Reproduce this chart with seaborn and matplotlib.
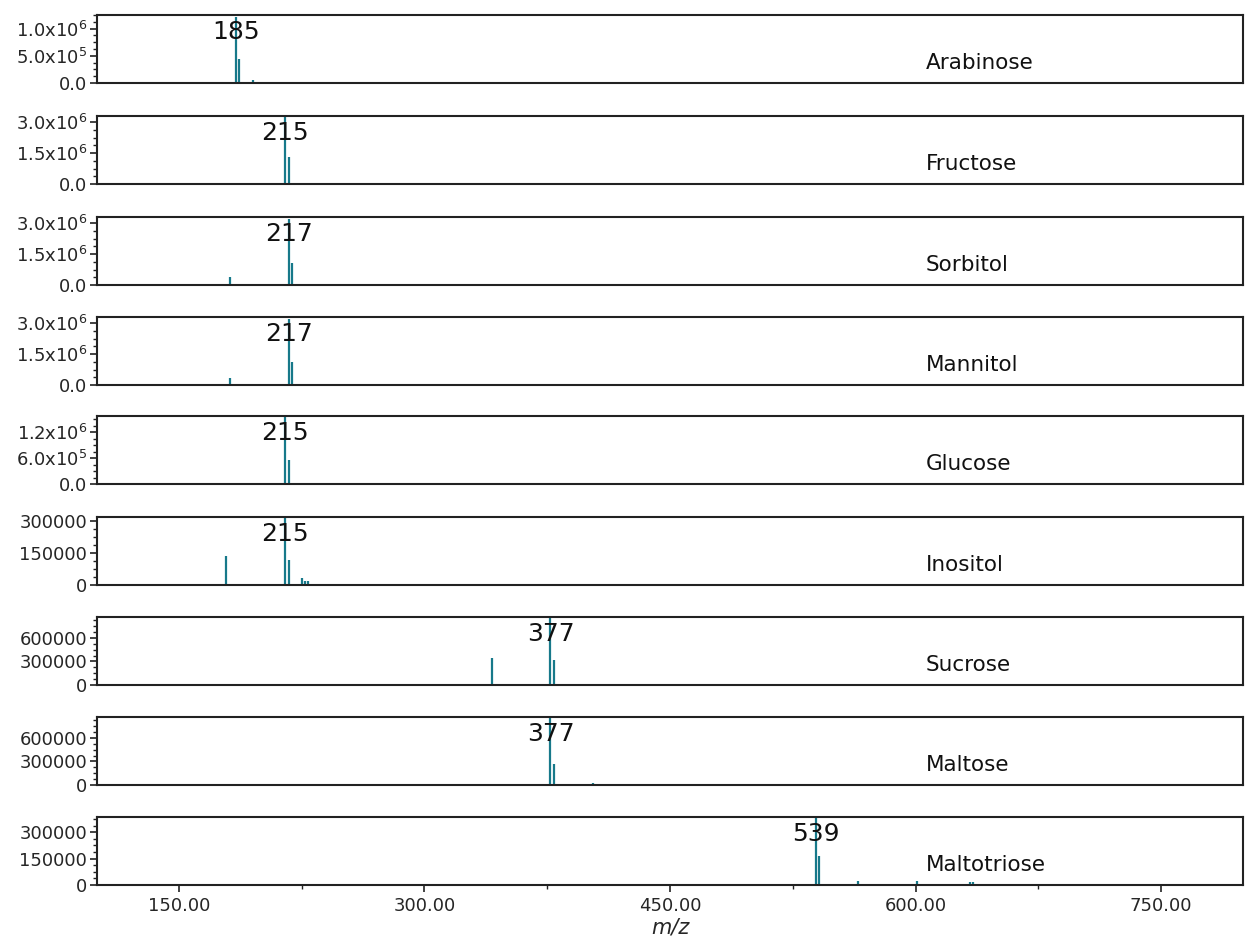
import matplotlib
matplotlib.use("Agg")
import matplotlib.pyplot as plt
from matplotlib.ticker import FixedLocator, AutoMinorLocator, MultipleLocator
import seaborn as sns
import numpy as np

sns.set_style("ticks")

compounds = ["Arabinose", "Fructose", "Sorbitol", "Mannitol", "Glucose",
             "Inositol", "Sucrose", "Maltose", "Maltotriose"]
base_peaks = [185, 215, 217, 217, 215, 215, 377, 377, 539]
mz_values = [
    [185, 187, 195],
    [215, 217],
    [181, 217, 219],
    [181, 217, 219],
    [215, 217, 375],
    [179, 215, 217, 225, 227, 229, 295],
    [117, 341, 377, 379, 403, 439, 683],
    [117, 341, 377, 379, 403, 439],
    [505, 539, 541, 565, 601, 633, 635],
]
intensities = [
    [1.22e6, 4.5e5, 5.0e4],
    [3.25e6, 1.3e6],
    [4.0e5, 3.2e6, 1.05e6],
    [3.5e5, 3.2e6, 1.1e6],
    [1.55e6, 5.5e5, 1.0e4],
    [135000, 318000, 120000, 35000, 20000, 18000, 5000],
    [10000, 340000, 860000, 320000, 8000, 12000, 3000],
    [10000, 8000, 860000, 270000, 25000, 15000],
    [3000, 380000, 165000, 25000, 25000, 15000, 15000],
]
y_max = [1.25e6, 3.3e6, 3.3e6, 3.3e6, 1.57e6, 320000, 868000, 868000, 386000]
y_ticks = [[0, 5e5, 1e6], [0, 1.5e6, 3e6], [0, 1.5e6, 3e6], [0, 1.5e6, 3e6],
           [0, 6e5, 1.2e6], [0, 150000, 300000], [0, 300000, 600000],
           [0, 300000, 600000], [0, 150000, 300000]]
y_ticklabels = [
    ["0.0", r"5.0x10$^{5}$", r"1.0x10$^{6}$"],
    ["0.0", r"1.5x10$^{6}$", r"3.0x10$^{6}$"],
    ["0.0", r"1.5x10$^{6}$", r"3.0x10$^{6}$"],
    ["0.0", r"1.5x10$^{6}$", r"3.0x10$^{6}$"],
    ["0.0", r"6.0x10$^{5}$", r"1.2x10$^{6}$"],
    ["0", "150000", "300000"],
    ["0", "300000", "600000"],
    ["0", "300000", "600000"],
    ["0", "150000", "300000"],
]
x_ticks = [150, 300, 450, 600, 750]
x_ticklabels = ["150.00", "300.00", "450.00", "600.00", "750.00"]

color = "#17798a"
fig = plt.figure(figsize=(12.53, 9.44), dpi=100)
W, H = 1253, 944
tops = [15, 116, 217, 317, 416, 517, 617, 717, 817]
ph = 68
for i, name in enumerate(compounds):
    ax = fig.add_axes([97 / W, 1 - (tops[i] + ph) / H, 1146 / W, ph / H])
    ax.vlines(mz_values[i], 0, intensities[i], color=color, lw=1.6)
    ax.set_xlim(100, 800)
    ax.set_ylim(0, y_max[i])
    ax.yaxis.set_major_locator(FixedLocator(y_ticks[i]))
    ax.set_yticklabels(y_ticklabels[i], fontsize=13)
    ax.yaxis.set_minor_locator(AutoMinorLocator(4))
    ax.tick_params(axis="y", which="major", length=5, width=1.2, color="#222", pad=2)
    ax.tick_params(axis="y", which="minor", length=3, width=1, color="#222")
    for s in ax.spines.values():
        s.set_linewidth(1.5)
        s.set_color("#222")
    if i < len(compounds) - 1:
        ax.set_xticks([])
    else:
        ax.xaxis.set_major_locator(FixedLocator(x_ticks))
        ax.xaxis.set_minor_locator(MultipleLocator(75))
        ax.tick_params(axis="x", which="major", length=5, width=1.2, color="#222")
        ax.tick_params(axis="x", which="minor", length=3, width=1, color="#222")
        ax.set_xticklabels(x_ticklabels, fontsize=13)
        ax.set_xlabel("m/z", fontsize=15, style="italic", labelpad=2)
    ax.text(base_peaks[i], y_max[i] * 0.93, str(base_peaks[i]), ha="center",
            va="top", fontsize=18, color="#111")
    ax.text(0.723, 0.3, name, transform=ax.transAxes, ha="left", va="center",
            fontsize=15.5, color="#111")

fig.savefig("out.png", dpi=100)
